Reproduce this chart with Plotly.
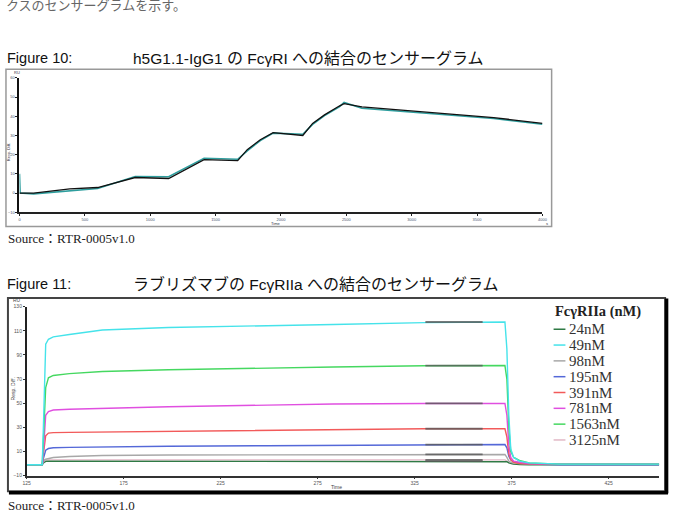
import plotly.graph_objects as go

W, H = 677, 526
def px(x):
    return x / W
def py(y):
    return 1 - y / H

# ---------------- Figure 10 data (h5G1.1-IgG1 / FcγRI) ----------------
f10_black_t = [0, 108, 385, 598, 885, 1141, 1412, 1669, 1742, 1842, 1940, 2167, 2242, 2333, 2446, 2483, 2619, 3124, 3627, 4000]
f10_black_v = [0, 0, 2.2, 2.9, 8.1, 7.6, 17.4, 16.9, 22.6, 27.8, 31.5, 30.0, 36.3, 40.7, 45.3, 46.6, 44.9, 42.0, 39.3, 36.3]
f10_teal_t = [0, 5, 108, 385, 598, 885, 1141, 1412, 1669, 1742, 1842, 1940, 2167, 2242, 2333, 2446, 2483, 2619, 3124, 3627, 4000]
f10_teal_v = [10, 0, -0.4, 1.3, 2.4, 8.6, 8.5, 18.1, 17.6, 22.0, 27.3, 31.2, 30.6, 35.8, 40.3, 44.9, 47.2, 44.2, 41.5, 38.8, 35.8]
f10_xticks = [0, 500, 1000, 1500, 2000, 2500, 3000, 3500, 4000]
f10_yticks = [-10, 0, 10, 20, 30, 40, 50, 60]

# ---------------- Figure 11 data (ravulizumab / FcγRIIa) ----------------
f11_t = [125, 133, 133.6, 134.2, 134.8, 136.2, 138.7, 147, 164, 198, 249, 283, 330, 371.5,
         372.5, 373.5, 374.5, 376, 379, 384, 400, 425, 451]
f11_names = ["24nM", "49nM", "98nM", "195nM", "391nM", "781nM", "1563nM", "3125nM"]
f11_colors = ["#2f7a45", "#45e3ea", "#a8a8a8", "#5468d8", "#f25a5a", "#e04fe0", "#45d860", "#e2b8c6"]
v_24nM   = [-1, -1, 0.5, 1.5, 1.8, 2, 2, 2, 2, 2, 2, 2, 2, 2, 1.5, 0.5, 0, -0.5, -0.8, -1, -1, -1, -1]
v_49nM   = [-1, -1, 30, 80, 99, 103, 105, 107, 110.7, 112.7, 114.6, 115.3, 116.8, 117.3, 95, 40, 12, 5, 2, 0.5, -0.5, -0.5, -0.5]
v_98nM   = [-1, -1, 1, 3, 3.5, 4, 5, 5.8, 6.6, 7, 7.2, 7.4, 7.5, 7.5, 5, 2, 1, 0.3, 0, -0.5, -0.8, -0.8, -0.8]
v_195nM  = [-1, -1, 4, 9, 11, 12.4, 13, 13.4, 13.8, 14.3, 14.7, 15, 15.4, 15.7, 13, 6, 3, 1.5, 0.5, -0.5, -1, -1, -1]
v_391nM  = [-1, -1, 8, 18, 23, 25.2, 25.6, 25.8, 26.1, 27, 27.7, 28.3, 28.8, 28.8, 22, 8, 3, 1, 0, -0.5, -0.5, -0.5, -0.5]
v_781nM  = [-1, -1, 10, 30, 40, 43, 44.3, 45, 45.7, 47, 48.4, 49.3, 49.8, 49.8, 40, 15, 5, 2, 1, 0, -0.5, -0.5, -0.5]
v_1563nM = [-1, -1, 20, 50, 63, 71, 73, 74.5, 76.3, 77.7, 79.3, 80, 81, 81.2, 70, 30, 10, 5, 2.5, 0.5, -0.5, -0.5, -0.5]
v_3125nM = [-1, -1, 1, 2, 2.5, 3, 3, 3, 3, 3, 3, 3, 3, 3, 2, 1, 0, -0.5, -0.5, -0.5, -0.5, -0.5, -0.5]
f11_values = [v_24nM, v_49nM, v_98nM, v_195nM, v_391nM, v_781nM, v_1563nM, v_3125nM]
f11_overlay_t = [330.5, 360]
f11_overlay_levels = [2, 117.3, 7.5, 15.7, 28.8, 49.8, 81.2, 3]
f11_xticks = [125, 175, 225, 275, 325, 375, 425]
f11_yticks = [-10, 10, 30, 50, 70, 90, 110, 130]

fig = go.Figure()

# Figure 10 traces
fig.add_trace(go.Scatter(x=f10_teal_t, y=f10_teal_v, mode="lines", line=dict(color="#2e9e9e", width=1.6),
                         xaxis="x", yaxis="y", showlegend=False))
fig.add_trace(go.Scatter(x=f10_black_t, y=f10_black_v, mode="lines", line=dict(color="#111111", width=1.3),
                         xaxis="x", yaxis="y", showlegend=False))

# Figure 11 traces
order = [7, 0, 2, 3, 4, 5, 6, 1]
for i in order:
    fig.add_trace(go.Scatter(x=f11_t, y=f11_values[i], mode="lines",
                             line=dict(color=f11_colors[i], width=1.4),
                             xaxis="x2", yaxis="y2", name=f11_names[i], showlegend=False))
for lvl in f11_overlay_levels:
    fig.add_trace(go.Scatter(x=f11_overlay_t, y=[lvl, lvl], mode="lines",
                             line=dict(color="#5a5a5a", width=1.8), opacity=0.8,
                             xaxis="x2", yaxis="y2", showlegend=False))

small = dict(family="Liberation Sans", size=4, color="#4a5570")
fig.update_layout(
    width=W, height=H, margin=dict(l=0, r=0, t=0, b=0),
    paper_bgcolor="white", plot_bgcolor="rgba(0,0,0,0)",
    xaxis=dict(domain=[px(15.7), px(545.7)], range=[0, 4000], anchor="y",
               showline=True, linecolor="#222", linewidth=1.5, ticks="outside", ticklen=2,
               tickcolor="#222", tickvals=f10_xticks, tickfont=small, showgrid=False, zeroline=False),
    yaxis=dict(domain=[py(211.7), py(75.7)], range=[-10, 60], anchor="x",
               showline=True, linecolor="#111", linewidth=2, ticks="outside", ticklen=2,
               tickcolor="#222", tickvals=f10_yticks, tickfont=small, showgrid=False, zeroline=False),
    xaxis2=dict(domain=[px(23), px(664)], range=[125, 451], anchor="y2",
                showline=True, linecolor="#333", linewidth=1.5, ticks="outside", ticklen=2,
                tickcolor="#333", tickvals=f11_xticks, tickfont=dict(family="Liberation Sans", size=5, color="#555"),
                showgrid=False, zeroline=False),
    yaxis2=dict(domain=[py(478), py(307.2)], range=[-10, 130], anchor="x2",
                showline=True, linecolor="#222", linewidth=1.5, ticks="outside", ticklen=2,
                tickcolor="#333", tickvals=f11_yticks, tickfont=dict(family="Liberation Sans", size=5, color="#555"),
                showgrid=False, zeroline=False),
)

shapes = [
    dict(type="rect", xref="paper", yref="paper", x0=px(2), x1=px(555), y0=py(226), y1=py(67),
         line=dict(color="#999", width=1.5)),
    dict(type="rect", xref="paper", yref="paper", x0=px(4), x1=px(670), y0=py(494), y1=py(298.5),
         line=dict(color="#444", width=2)),
    dict(type="line", xref="paper", yref="paper", x0=px(671.5), x1=px(671.5), y0=py(496), y1=py(299),
         line=dict(color="#000", width=3.5)),
    dict(type="line", xref="paper", yref="paper", x0=px(5), x1=px(673), y0=py(495.5), y1=py(495.5),
         line=dict(color="#000", width=3.5)),
]
annotations = []
def txt(x, y, s, size, family="Liberation Sans, Noto Sans CJK JP", color="#111", xanchor="left", **kw):
    annotations.append(dict(x=px(x), y=py(y), xref="paper", yref="paper", text=s, showarrow=False,
                            xanchor=xanchor, yanchor="middle",
                            font=dict(family=family, size=size, color=color), **kw))

def cjk(s):
    return '<span style="font-size:16px">' + s + '</span>'

txt(0, 2, "クスのセンサーグラムを示す。", 13, family="Noto Sans CJK JP", color="#666")
txt(1, 56, "Figure 10:", 14.5)
txt(129, 56, "h5G1.1-IgG1 " + cjk("の") + " FcγRI " + cjk("への結合のセンサーグラム"), 15.5)
txt(2, 238, "Source：RTR-0005v1.0", 13, family="Liberation Serif, Noto Sans CJK JP", color="#222")
txt(1, 284, "Figure 11:", 14.5)
txt(129, 284, cjk("ラブリズマブの") + " FcγRIIa " + cjk("への結合のセンサーグラム"), 15.5)
txt(2, 508, "Source：RTR-0005v1.0", 13, family="Liberation Serif, Noto Sans CJK JP", color="#222")

# tiny axis captions
txt(8, 70, "RU", 4, color="#334")
txt(4, 150, "Resp. Diff.", 4, color="#334", xanchor="center", textangle=-90)
txt(276, 223.5, "Time", 4, color="#334", xanchor="center")
txt(550, 223.5, "s", 4, color="#334", xanchor="center")
txt(13, 300, "RU", 5, color="#444", xanchor="center")
txt(9, 390, "Resp. Diff.", 5, color="#444", xanchor="center", textangle=-90)
txt(337, 490, "Time", 5, color="#444", xanchor="center")

# Legend for Figure 11
txt(556, 312, "<b>FcγRIIa (nM)</b>", 14.5, family="Liberation Serif", color="#222")
for k, (nm, col) in enumerate(zip(f11_names, f11_colors)):
    yy = 330 + k * 16
    shapes.append(dict(type="line", xref="paper", yref="paper", x0=px(557), x1=px(569), y0=py(yy), y1=py(yy),
                       line=dict(color=col, width=1.5)))
    txt(571, yy, nm, 15, family="Liberation Serif", color="#333")

fig.update_layout(shapes=shapes, annotations=annotations)
fig.write_html("out.html")
